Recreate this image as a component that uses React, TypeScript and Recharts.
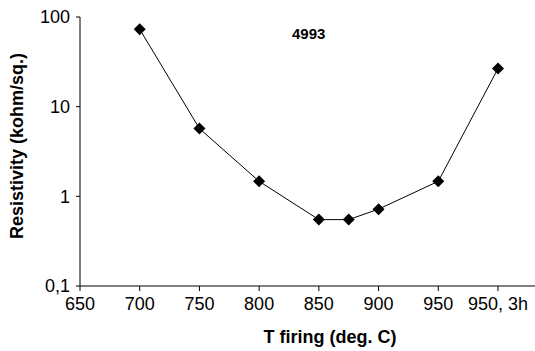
import React from "react";
import { LineChart, Line, XAxis, YAxis, Label } from "recharts";

// firing temperature slots (1000 is the "950, 3h" slot)
const temps = [700, 750, 800, 850, 875, 900, 950, 1000];
const resistivity = [73, 5.7, 1.47, 0.55, 0.55, 0.72, 1.47, 26.6];

const xTicks = [650, 700, 750, 800, 850, 900, 950, 1000];
const xTickLabels = ["650", "700", "750", "800", "850", "900", "950", "950, 3h"];
const yTicks = [0.1, 1, 10, 100];
const yTickLabels = ["0,1", "1", "10", "100"];

const data = temps.map((t, i) => ({ t, r: resistivity[i] }));

const font = "'Liberation Sans', Arial, sans-serif";

function Diamond(props: any) {
  const { cx, cy } = props;
  if (cx == null || cy == null) return null;
  const s = 6;
  return (
    <path
      key={props.key ?? `${cx}-${cy}`}
      d={`M${cx},${cy - s} L${cx + s},${cy} L${cx},${cy + s} L${cx - s},${cy} Z`}
      fill="#000"
    />
  );
}

export default function App() {
  return (
    <div style={{ position: "absolute", left: 0, top: 0, width: 535, height: 351, background: "#fff", fontFamily: font }}>
      <LineChart width={535} height={351} data={data} margin={{ top: 17, right: 0, bottom: 0, left: 0 }}>
        <XAxis
          dataKey="t"
          type="number"
          domain={[650, 1031]}
          ticks={xTicks}
          tickFormatter={(v: number) => xTickLabels[xTicks.indexOf(v)] ?? ""}
          height={65}
          stroke="#000"
          tickSize={5}
          tickMargin={6}
          tick={{ fill: "#000", fontSize: 18, fontFamily: font }}
          interval={0}
        >
          <Label
            content={() => (
              <text x={330} y={343} textAnchor="middle" fontSize={18} fontWeight="bold" fill="#000" fontFamily={font}>
                T firing (deg. C)
              </text>
            )}
          />
        </XAxis>
        <YAxis
          dataKey="r"
          scale="log"
          domain={[0.1, 100]}
          allowDataOverflow
          ticks={yTicks}
          tickFormatter={(v: number) => yTickLabels[yTicks.indexOf(v)] ?? ""}
          width={80}
          stroke="#000"
          tickSize={4}
          tickMargin={6}
          tick={{ fill: "#000", fontSize: 18, fontFamily: font }}
          interval={0}
        >
          <Label
            content={() => (
              <text
                x={23}
                y={146}
                transform="rotate(-90 23 146)"
                textAnchor="middle"
                fontSize={18}
                fontWeight="bold"
                fill="#000"
                fontFamily={font}
              >
                Resistivity (kohm/sq.)
              </text>
            )}
          />
        </YAxis>
        <Line
          type="linear"
          dataKey="r"
          stroke="#000"
          strokeWidth={1}
          dot={Diamond}
          activeDot={false}
          isAnimationActive={false}
        />
      </LineChart>
      <div
        style={{
          position: "absolute",
          left: 292,
          top: 25,
          fontSize: 15,
          fontWeight: "bold",
          fontFamily: font,
          color: "#000",
        }}
      >
        4993
      </div>
    </div>
  );
}
